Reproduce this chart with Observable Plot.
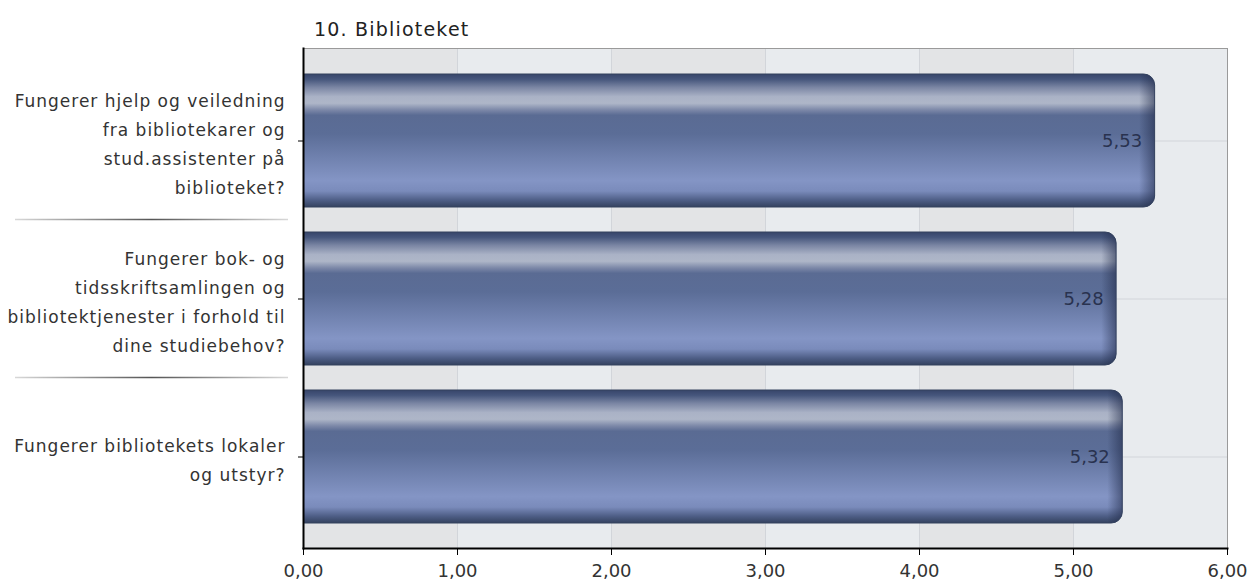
<!DOCTYPE html>
<html><head><meta charset="utf-8">
<script src="https://cdn.jsdelivr.net/npm/d3@7"></script>
<script src="https://cdn.jsdelivr.net/npm/@observablehq/plot@0.6"></script>
<style>
body{margin:0;background:#fff;font-family:"DejaVu Sans",sans-serif;}
#title{height:40px;box-sizing:border-box;padding:18px 0 0 314px;font-size:19px;line-height:22px;color:#222;letter-spacing:1.2px;}
#chart svg{display:block;}
</style></head><body>
<div id="title">10. Biblioteket</div>
<div id="chart"></div>
<script>
const questions = [
  "Fungerer hjelp og veiledning\nfra bibliotekarer og\nstud.assistenter på\nbiblioteket?",
  "Fungerer bok- og\ntidsskriftsamlingen og\nbibliotektjenester i forhold til\ndine studiebehov?",
  "Fungerer bibliotekets lokaler\nog utstyr?"
];
const values = [5.53, 5.28, 5.32];
const xTicks = [0, 1, 2, 3, 4, 5, 6];

const data = questions.map((q, i) => ({q, value: values[i]}));
const bands = d3.pairs(xTicks).map(([a, b], i) => ({x1: a, x2: b, shade: i % 2}));
const fmt = v => d3.format(".2f")(v).replace(".", ",");

const chart = Plot.plot({
  width: 1253, height: 546,
  marginTop: 8, marginBottom: 38, marginLeft: 303, marginRight: 26,
  style: {fontFamily: "DejaVu Sans", fontSize: "17px", background: "#fff", color: "#000"},
  x: {domain: [0, 6], ticks: xTicks, tickFormat: fmt},
  y: {domain: questions, padding: 0.16, label: null},
  marks: [
    Plot.rect(bands, {x1: "x1", x2: "x2", fill: d => d.shade ? "#e8ebee" : "#e3e4e6"}),
    Plot.gridX(xTicks, {stroke: "#d2d5da", strokeOpacity: 1}),
    Plot.gridY({stroke: "#d2d5da", strokeOpacity: 1}),
    Plot.barX(data, {x: "value", y: "q", fill: "url(#barGrad)", rx: 11, insetLeft: -14, clip: true}),
    Plot.barX(data, {x: "value", y: "q", fill: "url(#edgeGrad)", rx: 11, insetLeft: -14, clip: true, stroke: "#34425f", strokeWidth: 1}),
    Plot.text(data, {x: "value", y: "q", text: d => fmt(d.value), textAnchor: "end", dx: -13, fill: "#29324f", fontSize: 18}),
    Plot.frame({stroke: "#9a9a9a"}),
    Plot.frame({anchor: "bottom", stroke: "#000", strokeWidth: 2}),
    Plot.frame({anchor: "left", stroke: "#000", strokeWidth: 2}),
    Plot.axisX({ticks: xTicks, tickFormat: fmt, tickSize: 7, tickPadding: 9, fontSize: 18, fill: "#333", stroke: "#000", label: null}),
    Plot.axisY({tickSize: 5, tickPadding: 13, fontSize: 17, lineHeight: 1.7, fill: "#333", stroke: "#000", label: null})
  ]
});

const svg = d3.select(chart);
svg.selectAll('g[aria-label="y-axis tick label"] text').style("letter-spacing", "1px");
const defs = svg.insert("defs", ":first-child");
const g1 = defs.append("linearGradient").attr("id", "barGrad").attr("x1", 0).attr("y1", 0).attr("x2", 0).attr("y2", 1);
[[0, "#37456a"], [0.04, "#46567c"], [0.1, "#7a85a3"], [0.17, "#aab2c6"], [0.22, "#aeb6c8"], [0.27, "#7c88a8"], [0.31, "#5a6b93"],
 [0.45, "#5b6d97"], [0.8, "#8495c5"], [0.88, "#7a8bbb"], [0.95, "#4d5d85"], [1, "#34425f"]]
  .forEach(([o, c]) => g1.append("stop").attr("offset", o).attr("stop-color", c));
const g2 = defs.append("linearGradient").attr("id", "edgeGrad").attr("x1", 0).attr("y1", 0).attr("x2", 1).attr("y2", 0);
[[0, "rgba(30,40,70,0)"], [0.982, "rgba(30,40,70,0)"], [1, "rgba(30,40,70,0.55)"]]
  .forEach(([o, c]) => g2.append("stop").attr("offset", o).attr("stop-color", c));
const g3 = defs.append("linearGradient").attr("id", "sepGrad").attr("x1", 0).attr("y1", 0).attr("x2", 1).attr("y2", 0);
[[0, "#d8d8d8"], [0.5, "#555"], [1, "#d8d8d8"]]
  .forEach(([o, c]) => g3.append("stop").attr("offset", o).attr("stop-color", c));

// separators between category bands, positioned from the y scale
const ys = chart.scale("y");
const gap = (ys.step - ys.bandwidth) / 2;
const sep = svg.append("g");
questions.slice(1).forEach(q => {
  const yy = ys.apply(q) - gap;
  sep.append("rect").attr("x", 15).attr("y", yy - 0.75).attr("width", 273).attr("height", 1.5).attr("fill", "url(#sepGrad)");
});

document.getElementById("chart").appendChild(chart);
</script>
</body></html>
